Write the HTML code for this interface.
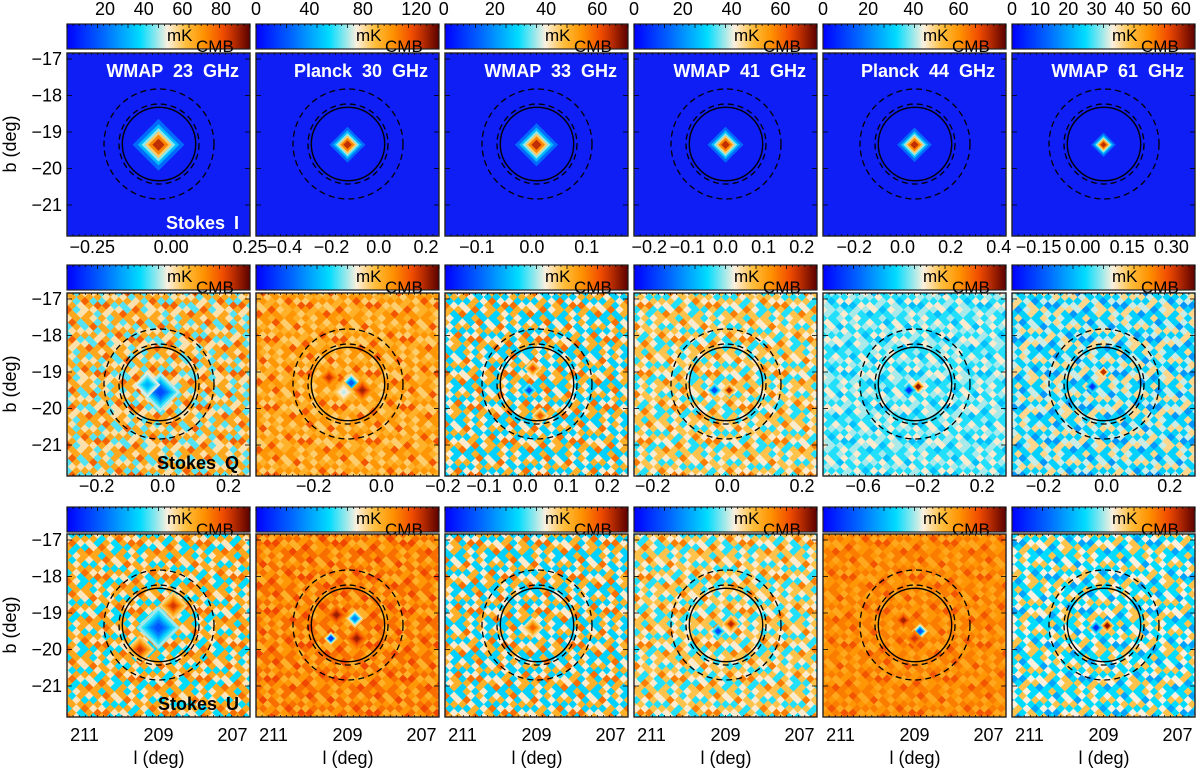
<!DOCTYPE html>
<html><head><meta charset="utf-8"><style>
html,body{margin:0;padding:0;background:#fff;}
svg{display:block;font-family:"Liberation Sans",sans-serif;}
</style></head><body>
<svg id="fig" width="1200" height="769" viewBox="0 0 1200 769" xmlns="http://www.w3.org/2000/svg"><defs id="defs"></defs></svg>
<script>
// ---- data ----
const titles = ["WMAP 23 GHz","Planck 30 GHz","WMAP 33 GHz","WMAP 41 GHz","Planck 44 GHz","WMAP 61 GHz"];
const cbMin = [0.3,0,0.5,0,0,0];
const cbMax = [95,137,72,75,81,65];
const cbTicks = [[20,40,60,80],[0,40,80,120],[0,20,40,60],[0,20,40,60],[0,20,40,60],[0,10,20,30,40,50,60]];
const iWidth = [0.36,0.25,0.3,0.25,0.24,0.17];
const row1Min = [-0.33,-0.52,-0.158,-0.24,-0.33,-0.24];
const row1Max = [0.25,0.255,0.175,0.24,0.43,0.38];
const row1TickSets = [[-0.25,0,0.25],[-0.4,-0.2,0,0.2],[-0.1,0,0.1],[-0.2,-0.1,0,0.1,0.2],[-0.2,0,0.2,0.4],[-0.15,0,0.15,0.3]];
const row1Dec = [2,1,1,1,1,2];
const row2Min = [-0.29,-0.37,-0.195,-0.25,-0.87,-0.3];
const row2Max = [0.265,0.17,0.25,0.24,0.36,0.28];
const row2TickSets = [[-0.2,0,0.2],[-0.2,0],[-0.2,-0.1,0,0.1,0.2],[-0.2,0,0.2],[-0.6,-0.2,0.2],[-0.2,0,0.2]];
const lonTicks = [211,209,207];
const latTicks = [-17,-18,-19,-20,-21];
// texture palettes (colormap positions) for Q row and U row
const qPal = [[0.7,0.58,0.45,0.82],[0.74,0.68,0.62,0.84],[0.38,0.68,0.56,0.8],[0.64,0.42,0.56,0.78],[0.42,0.5,0.56,0.35],[0.38,0.6,0.52,0.28]];
const uPal = [[0.7,0.4,0.57,0.8],[0.8,0.74,0.68,0.86],[0.38,0.68,0.56,0.8],[0.64,0.42,0.56,0.78],[0.78,0.74,0.7,0.84],[0.4,0.64,0.55,0.3]];
// features: row(1=Q,2=U), col, l, b, peak value, width (deg)
const fRow = [1,1,1,1,1,1,1,1,1,1,1,1,1,1,1,2,2,2,2,2,2,2,2,2,2,2,2,2,2,2];
const fCol = [0,0,1,1,1,1,2,2,2,3,3,4,4,5,5,0,0,0,1,1,1,1,2,3,3,4,4,4,5,5];
const fL   = [208.95,209.3,209.5,208.9,208.6,209.1,209.1,208.9,209.2,208.9,209.3,208.9,209.15,209.0,209.3,208.6,209.5,209.0,209.3,208.75,209.45,208.8,209.1,208.85,209.2,208.85,209.3,209.0,208.9,209.2];
const fB   = [-19.55,-19.35,-19.15,-19.3,-19.5,-19.55,-18.9,-20.2,-19.5,-19.5,-19.5,-19.4,-19.5,-19.0,-19.4,-18.8,-20.0,-19.4,-19.05,-19.7,-19.7,-19.15,-19.4,-19.3,-19.5,-19.5,-19.2,-19.7,-19.35,-19.4];
const fV   = [0.1,0.3,0.92,0.12,0.96,0.5,0.88,0.86,0.1,0.96,0.1,1.0,0.05,0.95,0.05,0.92,0.92,0.12,0.96,0.96,0.05,0.2,0.85,0.95,0.1,0.1,0.95,0.9,1.0,0.05];
const fW   = [0.28,0.18,0.15,0.14,0.17,0.16,0.12,0.12,0.1,0.1,0.1,0.1,0.1,0.08,0.1,0.2,0.2,0.3,0.15,0.16,0.1,0.14,0.15,0.13,0.1,0.12,0.12,0.12,0.1,0.1];

// ---- geometry ----
const NS="http://www.w3.org/2000/svg";
const svg=document.getElementById('fig');
const defs=document.getElementById('defs');
const W=183, PL=[67,256,445,634,823,1012];
const mapTop=[53,293,534], cbTop=[24,265,507], cbH=25;
function el(tag,attrs,parent){const e=document.createElementNS(NS,tag);for(const k in attrs)e.setAttribute(k,attrs[k]);(parent||svg).appendChild(e);return e;}
const stops=[[0,[0,0,255]],[0.2,[0,105,255]],[0.4,[0,220,255]],[0.55,[252,240,222]],[0.65,[255,190,60]],[0.75,[255,145,0]],[0.86,[240,70,0]],[1,[90,0,0]]];
function cmap(t){t=Math.max(0,Math.min(1,t));for(let i=1;i<stops.length;i++){if(t<=stops[i][0]){const a=stops[i-1],b=stops[i];const f=(t-a[0])/(b[0]-a[0]);const c=a[1].map((v,j)=>Math.round(v+(b[1][j]-v)*f));return `rgb(${c[0]},${c[1]},${c[2]})`;}}return 'rgb(90,0,0)';}
function xOfL(c,l){return PL[c]+91.5+(209-l)*37;}
function yOfB(r,b){return mapTop[r]+6+(-17-b)*36.5;}
function diamond(cx,cy,h,fill,g){const p=`${cx},${cy-h} ${cx+h},${cy} ${cx},${cy+h} ${cx-h},${cy}`;return el('polygon',{points:p,fill:fill},g);}
function blob(g,r,c,l,b,bgT,peakT,s){
  const cx=xOfL(c,l),cy=yOfB(r,b);
  const levels=[0.15,0.3,0.45,0.6,0.75,0.9];
  levels.forEach(f=>{const h=s*Math.sqrt(-2*Math.log(f))*37;const d=diamond(cx,cy,Math.max(h,3),cmap(bgT+(peakT-bgT)*f),g);
    
    });
}
const lg=el('linearGradient',{id:'cbgrad',x1:'0',x2:'1',y1:'0',y2:'0'},defs);
for(let i=0;i<=20;i++){el('stop',{offset:(i/20),'stop-color':cmap(i/20)},lg);}

// texture layout (style only)
const TEX=["01201023","20120301","12002110","03210210","21013002","10220130","02130021","31002102"];
function makePattern(id,pal){
  const cs=6, n=8;
  const p=el('pattern',{id:id,width:cs*n,height:cs*n,patternUnits:'userSpaceOnUse',patternTransform:'rotate(45)'},defs);
  for(let i=0;i<n;i++)for(let j=0;j<n;j++){const k=+TEX[j][i];el('rect',{x:i*cs,y:j*cs,width:cs+0.3,height:cs+0.3,fill:cmap(pal[k])},p);}
}
function text(x,y,s,opts,name){const t=el('text',Object.assign({x:x,y:y,'font-size':18,fill:'#000'},opts||{}));t.textContent=s;return t;}
function fmt(v,d){const s=Math.abs(v).toFixed(d);return (v<0?'−':'')+s;}

for(let r=0;r<3;r++){
  for(let c=0;c<6;c++){
    const L=PL[c],T=mapTop[r];
    const cb=el('g',{});
    el('rect',{x:L,y:cbTop[r],width:W,height:cbH,fill:'url(#cbgrad)',stroke:'#222','stroke-width':1.2},cb);
    for(let k=0;k<=30;k++){const x=L+k*W/30;el('line',{x1:x,x2:x,y1:cbTop[r],y2:cbTop[r]+(k%5==0?4:2),stroke:'#000','stroke-width':0.8},cb);}
    text(L+100,cbTop[r]+17,'mK',{'font-size':17},'colorbar-unit');
    text(L+129,cbTop[r]+28,'CMB',{'font-size':17},'colorbar-unit-subscript');
    if(r===0){cbTicks[c].forEach(v=>{const x=L+(v-cbMin[c])/(cbMax[c]-cbMin[c])*W;text(x,15,String(v),{'text-anchor':'middle'},'colorbar-tick-label');});}
    const clipId='clip'+r+c;const cp=el('clipPath',{id:clipId},defs);el('rect',{x:L,y:T,width:W,height:W},cp);
    const g=el('g',{'clip-path':`url(#${clipId})`});
    if(r===0){
      el('rect',{x:L,y:T,width:W,height:W,fill:'rgb(14,30,245)'},g);
      blob(g,r,c,209,-19.35,0.06,1.0,iWidth[c]);
    } else {
      const pal=(r===1?qPal:uPal)[c];const pid='pat'+r+c;makePattern(pid,pal);
      el('rect',{x:L,y:T,width:W,height:W,fill:`url(#${pid})`},g);
      const bg=(pal[0]+pal[1]+pal[2])/3;
      for(let i=0;i<fRow.length;i++){if(fRow[i]===r&&fCol[i]===c)blob(g,r,c,fL[i],fB[i],bg,fV[i],fW[i]);}
    }
    const cx=L+92,cy=T+91;
    const c1=el('circle',{cx:cx,cy:cy,r:36.7,fill:'none',stroke:'#000','stroke-width':1.4});
    const c2=el('circle',{cx:cx,cy:cy,r:40,fill:'none',stroke:'#000','stroke-width':1.3,'stroke-dasharray':'6,4'});
    const c3=el('circle',{cx:cx,cy:cy,r:55,fill:'none',stroke:'#000','stroke-width':1.3,'stroke-dasharray':'6,4'});
    const fr=el('rect',{x:L,y:T,width:W,height:W,fill:'none',stroke:'#222','stroke-width':1.4});
    for(let k=1;k<30;k++){const x=L+k*W/30;el('line',{x1:x,x2:x,y1:T+W,y2:T+W-2,stroke:'#000','stroke-width':0.7});el('line',{x1:x,x2:x,y1:T,y2:T+2,stroke:'#000','stroke-width':0.7});}
    latTicks.forEach(b=>{const y=yOfB(r,b);el('line',{x1:L,x2:L+5,y1:y,y2:y,stroke:'#000','stroke-width':0.8});el('line',{x1:L+W,x2:L+W-5,y1:y,y2:y,stroke:'#000','stroke-width':0.8});});
    if(r===0){text(L+172,T+24,titles[c],{'text-anchor':'end',fill:'#fff','word-spacing':'5px','font-weight':'bold'},'panel-title');}
    if(r===0){const mn=row1Min[c],mx=row1Max[c];row1TickSets[c].forEach(v=>{const x=L+(v-mn)/(mx-mn)*W;text(x,253,fmt(v,row1Dec[c]),{'text-anchor':'middle'},'x-tick-label');});}
    if(r===1){const mn=row2Min[c],mx=row2Max[c];row2TickSets[c].forEach(v=>{const x=L+(v-mn)/(mx-mn)*W;text(x,492,fmt(v,1),{'text-anchor':'middle'},'x-tick-label');});}
    if(r===2){lonTicks.forEach(l=>{text(xOfL(c,l),741,String(l),{'text-anchor':'middle'},'lon-tick-label');});text(L+92,764,'l (deg)',{'text-anchor':'middle'},'x-axis-title');}
    if(c===0){latTicks.forEach(b=>{text(62,yOfB(r,b)+6,fmt(b,0),{'text-anchor':'end'},'lat-tick-label');});
      text(0,0,'b (deg)',{'text-anchor':'middle',transform:`translate(16,${T+91}) rotate(-90)`},'y-axis-title');}
  }
}
text(239,53+176,'Stokes I',{'text-anchor':'end',fill:'#fff','word-spacing':'4px','font-weight':'bold'},'stokes-i-label');
text(239,293+176,'Stokes Q',{'text-anchor':'end','word-spacing':'4px','font-weight':'bold'},'stokes-q-label');
text(239,534+176,'Stokes U',{'text-anchor':'end','word-spacing':'4px','font-weight':'bold'},'stokes-u-label');
</script>
</body></html>
